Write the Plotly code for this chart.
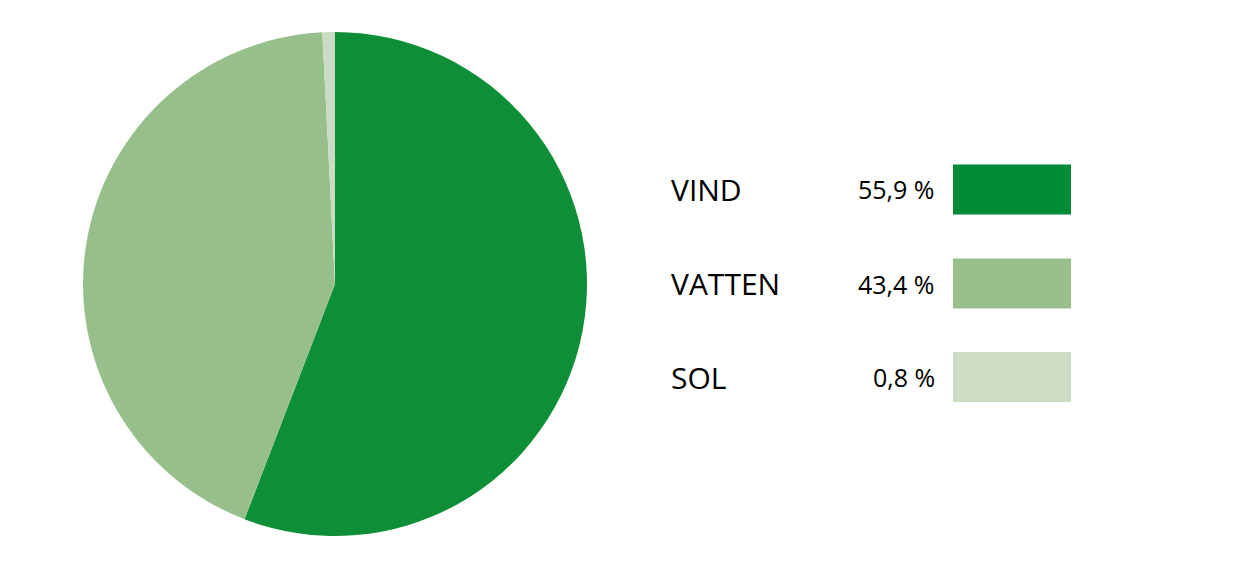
import plotly.graph_objects as go

# data
labels = ["VIND", "VATTEN", "SOL"]
values = [55.9, 43.4, 0.8]
value_text = ["55,9 %", "43,4 %", "0,8 %"]
pie_colors = ["#0e8f37", "#97bf8b", "#cbdcc4"]
swatch_colors = ["#008c36", "#99c08c", "#cddcc5"]

W, H = 1250, 569
OFF = 8  # page body margin

fig = go.Figure()
fig.add_trace(go.Pie(
    labels=labels,
    values=values,
    sort=False,
    direction="clockwise",
    rotation=0,
    marker=dict(colors=pie_colors, line=dict(width=0)),
    textinfo="none",
    hoverinfo="label+percent",
    showlegend=False,
    domain=dict(x=[(83 - OFF) / W, (587 - OFF) / W],
                y=[1 - (536 - OFF) / H, 1 - (32 - OFF) / H]),
))

# hand-made legend on the right
row_y = [189.5, 283.5, 377]
for i, lab in enumerate(labels):
    yc = 1 - (row_y[i] - OFF) / H
    fig.add_annotation(x=(669 - OFF) / W, y=yc, xref="paper", yref="paper", text=lab,
                       showarrow=False, xanchor="left", yanchor="middle",
                       font=dict(family="Open Sans", size=30, color="#000000"))
    fig.add_annotation(x=(937 - OFF) / W, y=yc, xref="paper", yref="paper", text=value_text[i],
                       showarrow=False, xanchor="right", yanchor="middle",
                       font=dict(family="Open Sans", size=25, color="#000000"))
    fig.add_shape(type="rect", xref="paper", yref="paper",
                  x0=(953 - OFF) / W, x1=(1071 - OFF) / W,
                  y0=1 - (row_y[i] + 25 - OFF) / H, y1=1 - (row_y[i] - 25 - OFF) / H,
                  fillcolor=swatch_colors[i], line=dict(width=0))

fig.update_layout(
    width=W, height=H,
    margin=dict(l=0, r=0, t=0, b=0),
    paper_bgcolor="white",
    plot_bgcolor="white",
)
fig.write_html("out.html")
